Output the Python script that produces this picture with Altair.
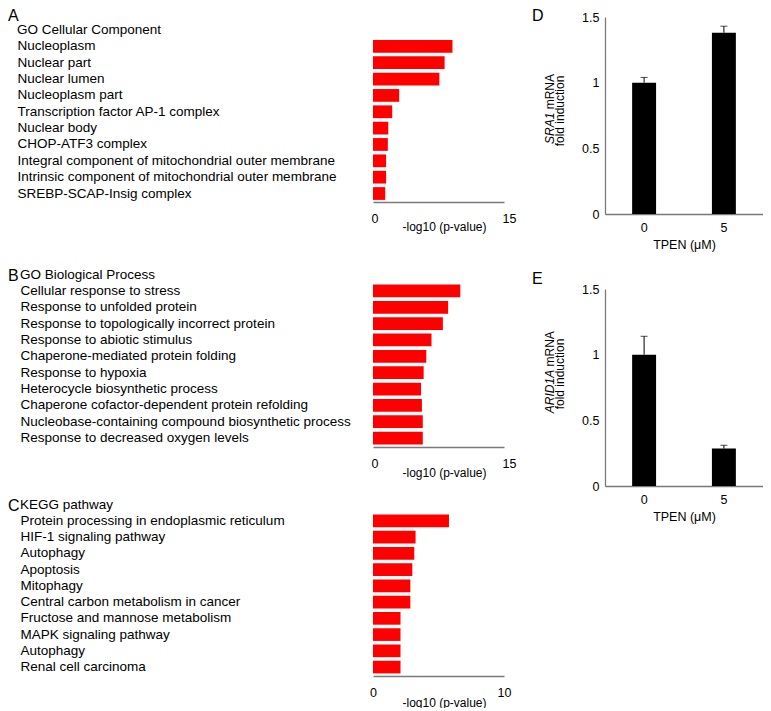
import json
import altair as alt
import pandas as pd

FONT = "Liberation Sans"
RED = "#ff0000"
AXIS_GREY = "#7a7a7a"

# ---------------- data ----------------
cc_terms = [
    "Nucleoplasm", "Nuclear part", "Nuclear lumen", "Nucleoplasm part",
    "Transcription factor AP-1 complex", "Nuclear body", "CHOP-ATF3 complex",
    "Integral component of mitochondrial outer membrane",
    "Intrinsic component of mitochondrial outer membrane",
    "SREBP-SCAP-Insig complex",
]
cc_values = [9.1, 8.2, 7.6, 3.0, 2.2, 1.75, 1.7, 1.5, 1.5, 1.4]

bp_terms = [
    "Cellular response to stress", "Response to unfolded protein",
    "Response to topologically incorrect protein", "Response to abiotic stimulus",
    "Chaperone-mediated protein folding", "Response to hypoxia",
    "Heterocycle biosynthetic process",
    "Chaperone cofactor-dependent protein refolding",
    "Nucleobase-containing compound biosynthetic process",
    "Response to decreased oxygen levels",
]
bp_values = [10.0, 8.6, 8.0, 6.7, 6.1, 5.8, 5.5, 5.6, 5.7, 5.7]

kegg_terms = [
    "Protein processing in endoplasmic reticulum", "HIF-1 signaling pathway",
    "Autophagy", "Apoptosis", "Mitophagy", "Central carbon metabolism in cancer",
    "Fructose and mannose metabolism", "MAPK signaling pathway", "Autophagy",
    "Renal cell carcinoma",
]
kegg_values = [5.8, 3.25, 3.15, 3.0, 2.85, 2.85, 2.1, 2.1, 2.1, 2.1]

tpen_doses = ["0", "5"]
sra1_values = [1.0, 1.38]
sra1_errors = [0.04, 0.05]
arid1a_values = [1.0, 0.285]
arid1a_errors = [0.14, 0.025]


def text_layer(txt, x, y, size=12.0, align="left", baseline="middle", angle=0, style="normal"):
    params = dict(align=align, baseline=baseline, fontSize=size, font=FONT,
                  color="black", fontStyle=style)
    if angle:
        params["angle"] = angle
    return alt.Chart(pd.DataFrame({"t": [txt]})).mark_text(**params).encode(
        x=alt.value(x), y=alt.value(y), text="t:N")


def enrichment_panel(letter, heading, terms, values, xmax, label_x, letter_y, head_y,
                     lab_align, lab_offset, title_y, height, pad_outer, band_align):
    df = pd.DataFrame({"rank": list(range(len(terms))), "term": terms, "value": values})
    label_expr = json.dumps(terms) + "[datum.value]"
    bars = alt.Chart(df).mark_bar(color=RED).encode(
        x=alt.X("value:Q",
                scale=alt.Scale(domain=[0, xmax], nice=False),
                axis=alt.Axis(values=[0, xmax], title="-log10 (p-value)",
                              grid=False, ticks=False, labelFlush=False,
                              labelAlign=lab_align, labelOffset=lab_offset,
                              labelPadding=10, labelFontSize=12.5,
                              titleX=71, titleY=title_y,
                              titleAlign="center", titleBaseline="top")),
        y=alt.Y("rank:O",
                scale=alt.Scale(paddingInner=0.22, paddingOuter=pad_outer,
                                align=band_align),
                axis=alt.Axis(title=None, labelExpr=label_expr, labelAlign="left",
                              labelPadding=-label_x, ticks=False, tickSize=0,
                              domain=False, labelLimit=400, labelFontSize=13.5)),
    )
    return alt.layer(
        bars,
        text_layer(letter, -365, letter_y, size=16),
        text_layer(heading, label_x, head_y, size=13.5),
    ).properties(width=131, height=height)


def qpcr_panel(letter, gene, values, errors, letter_y, center_y, gene_w):
    df = pd.DataFrame({"dose": tpen_doses, "value": values, "error": errors})
    base = alt.Chart(df).transform_calculate(upper="datum.value + datum.error")
    x = alt.X("dose:N", sort=tpen_doses,
              scale=alt.Scale(paddingInner=0.7, paddingOuter=0.34),
              axis=alt.Axis(title="TPEN (μM)", labelAngle=0, ticks=False,
                            labelPadding=7, titlePadding=5, labelFontSize=12.5,
                            titleFontSize=12.5))
    y = alt.Y("value:Q", scale=alt.Scale(domain=[0, 1.5], nice=False),
              axis=alt.Axis(values=[0, 0.5, 1, 1.5], format="~g", title=None,
                            ticks=False, grid=False, labelPadding=6, labelFontSize=12.5))
    bars = base.mark_bar(color="black").encode(x=x, y=y)
    err = base.mark_rule(color="black", strokeWidth=1).encode(
        x="dose:N", y="value:Q", y2="upper:Q")
    cap = base.mark_tick(color="black", size=7, thickness=1).encode(
        x="dose:N", y="upper:Q")
    mrna_w = 37.2
    p = center_y - (gene_w - mrna_w) / 2
    return alt.layer(
        bars, err, cap,
        text_layer(letter, -73, letter_y, size=16),
        text_layer(gene, -51, p, align="right", baseline="alphabetic", angle=270,
                   style="italic"),
        text_layer("mRNA", -51, p - 3.3, align="left", baseline="alphabetic", angle=270),
        text_layer("fold induction", -41, center_y + 2, align="center",
                   baseline="alphabetic", angle=270),
    ).properties(width=158, height=197)


# A: the band scale leaves room at the top for the letter and the heading,
# so that its plot origin lines up with panel D's.
panel_a = enrichment_panel("A", "GO Cellular Component", cc_terms, cc_values, 15,
                           -356, -1, 13, "left", -2, 19, 185, 0.7675, 0.916)
panel_b = enrichment_panel("B", "GO Biological Process", bp_terms, bp_values, 15,
                           -353, -6, -7, "left", -2, 20, 165, 0.16, 0.5)
panel_c = enrichment_panel("C", "KEGG pathway", kegg_terms, kegg_values, 10,
                           -353, -6, -7, "center", 0, 21, 164, 0.16, 0.5)

panel_d = qpcr_panel("D", "SRA1", sra1_values, sra1_errors, -1, 92, 30.0)
panel_e = qpcr_panel("E", "ARID1A", arid1a_values, arid1a_errors, -10, 83, 41.6)

left = alt.vconcat(alt.vconcat(panel_a, panel_b, spacing=36), panel_c, spacing=20)
right = alt.vconcat(panel_d, panel_e, spacing=20)

chart = (
    alt.hconcat(left, right, spacing=16)
    .properties(padding={"top": 0, "left": 0, "right": 0, "bottom": 0})
    .configure(font=FONT)
    .configure_view(stroke=None)
    .configure_axis(domainColor=AXIS_GREY, domainWidth=1.3, labelColor="black",
                    titleColor="black", labelFontSize=12, titleFontSize=12,
                    titleFontWeight="normal", labelFont=FONT, titleFont=FONT)
)

chart.save("out.html", embed_options={"renderer": "svg", "actions": False})
